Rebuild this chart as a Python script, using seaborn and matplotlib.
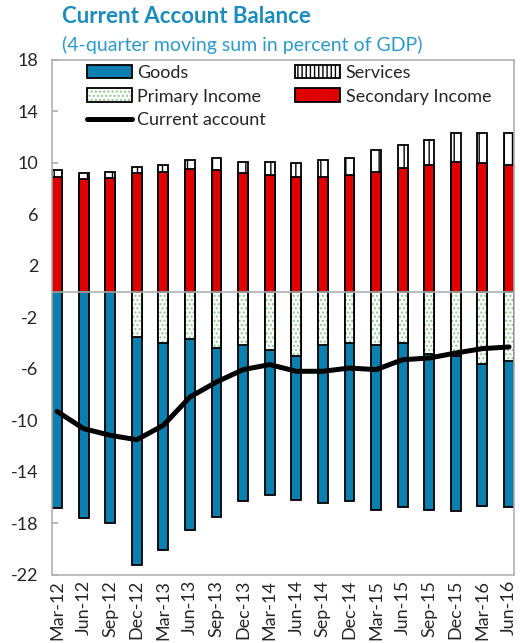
import numpy as np
import pandas as pd
import matplotlib
matplotlib.use("Agg")
import matplotlib.pyplot as plt
from matplotlib.patches import Patch
from matplotlib.lines import Line2D
import seaborn as sns

periods = ["Mar-12", "Jun-12", "Sep-12", "Dec-12", "Mar-13", "Jun-13", "Sep-13", "Dec-13",
           "Mar-14", "Jun-14", "Sep-14", "Dec-14", "Mar-15", "Jun-15", "Sep-15", "Dec-15",
           "Mar-16", "Jun-16"]
goods = [-16.8, -17.6, -18.0, -17.7, -16.1, -14.9, -13.1, -12.15, -11.25, -11.15, -12.25,
         -12.3, -12.8, -12.7, -12.1, -12.05, -11.1, -11.3]
primary_income = [0, 0, 0, -3.53, -4.0, -3.66, -4.39, -4.15, -4.54, -5.03, -4.18, -4.02,
                  -4.18, -4.02, -4.88, -5.03, -5.6, -5.42]
services = [0.52, 0.42, 0.52, 0.52, 0.52, 0.68, 0.91, 0.91, 1.04, 1.04, 1.3, 1.3, 1.69,
            1.82, 1.94, 2.21, 2.34, 2.47]
secondary_income = [8.92, 8.76, 8.79, 9.18, 9.31, 9.54, 9.44, 9.18, 9.05, 8.92, 8.92, 9.05,
                    9.31, 9.57, 9.83, 10.09, 9.96, 9.83]
current_account = [-9.32, -10.66, -11.18, -11.52, -10.4, -8.2, -7.03, -6.07, -5.68, -6.2,
                   -6.2, -5.95, -6.07, -5.3, -5.17, -4.78, -4.44, -4.31]

df = pd.DataFrame({"period": periods, "goods": goods, "primary": primary_income,
                   "services": services, "secondary": secondary_income,
                   "ca": current_account})
# stacked bars drawn as overlapping cumulative totals
df["pos_total"] = df["secondary"] + df["services"]
df["neg_total"] = df["goods"] + df["primary"]

sns.set_theme(style="white")
plt.rcParams["font.family"] = ["Lato", "DejaVu Sans"]
plt.rcParams["axes.unicode_minus"] = False
plt.rcParams["hatch.linewidth"] = 1.0

BLUE = "#0b80b0"
RED = "#e00000"
DOTS = "#8cc88c"
W = 0.37

fig = plt.figure(figsize=(5.2, 6.43), dpi=100)
ax = fig.add_axes([0.1, 0.1065, 0.8885, 0.8002])

kw = dict(x="period", order=periods, width=W, ax=ax, errorbar=None)
sns.barplot(data=df, y="pos_total", color="white", edgecolor="black", hatch="||",
            linewidth=1.3, saturation=1, **kw)
sns.barplot(data=df, y="secondary", color=RED, edgecolor="black", linewidth=1.3,
            saturation=1, **kw)
sns.barplot(data=df, y="neg_total", color=BLUE, edgecolor="black", linewidth=1.3,
            saturation=1, **kw)
sns.barplot(data=df, y="primary", color="white", edgecolor=DOTS, hatch="....",
            linewidth=0, saturation=1, **kw)
sns.barplot(data=df, y="primary", fill=False, color="black", linewidth=1.3, **kw)

ax.axhline(0, color="#b0b0b0", linewidth=1.2, zorder=1.5)
sns.lineplot(x=np.arange(len(periods)), y=df["ca"], color="black", linewidth=3.6,
             ax=ax, zorder=5)

ax.set_xlim(-0.19, len(periods) - 1 + 0.19)
ax.set_ylim(-22, 18)
ax.set_yticks(np.arange(-22, 19, 4))
ax.set_xticks(np.arange(len(periods)))
ax.set_xticklabels(periods, rotation=90)
ax.set_xlabel("")
ax.set_ylabel("")
ax.tick_params(axis="y", direction="in", length=4, color="#b0b0b0", labelsize=13,
               pad=10, left=True)
ax.tick_params(axis="x", length=0, labelsize=13, pad=4)
for s in ax.spines.values():
    s.set_color("#b0b0b0")
    s.set_linewidth(1.2)

h_goods = Patch(facecolor=BLUE, edgecolor="black", linewidth=1.3)
h_serv = Patch(facecolor="white", edgecolor="black", hatch="||||", linewidth=1.3)
h_prim = (Patch(facecolor="white", edgecolor=DOTS, hatch="....", linewidth=0),
          Patch(facecolor="none", edgecolor="black", linewidth=1.3))
h_sec = Patch(facecolor=RED, edgecolor="black", linewidth=1.3)
h_ca = Line2D([], [], color="black", linewidth=3.6)
ax.legend([h_goods, h_prim, h_ca, h_serv, h_sec],
          ["Goods", "Primary Income", "Current account", "Services", "Secondary Income"],
          ncol=2, loc="upper left", bbox_to_anchor=(0.052, 1.012), frameon=False,
          fontsize=13, handlelength=2.5, handleheight=0.8, handletextpad=0.3,
          labelspacing=0.42, columnspacing=1.6, borderaxespad=0.2)

fig.text(0.119, 0.99, "Current Account Balance", color="#1a8cc0", fontsize=16,
         fontweight="bold", va="top")
fig.text(0.119, 0.944, "(4-quarter moving sum in percent of GDP)", color="#2a9ad0",
         fontsize=14, va="top")

fig.savefig("out.png", dpi=100)
